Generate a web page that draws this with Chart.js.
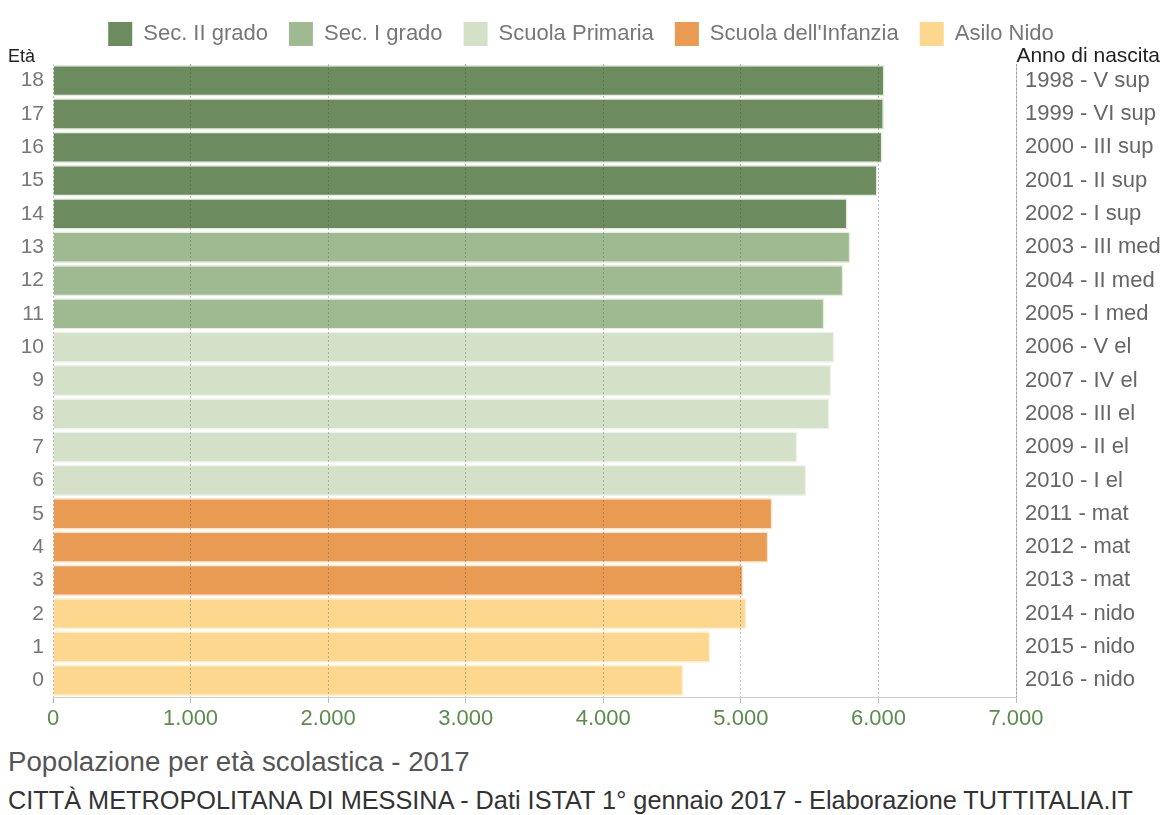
<!DOCTYPE html>
<html>
<head>
<meta charset="utf-8">
<title>Popolazione per età scolastica - 2017</title>
<script src="https://cdn.jsdelivr.net/npm/chart.js@4/dist/chart.umd.min.js"></script>
<style>
  body { margin: 0; background: #fff; font-family: "Liberation Sans", Arial, sans-serif; }
  #pagina { position: relative; width: 1162px; height: 815px; overflow: hidden; }
  #contenitore { position: absolute; left: 0; top: 0; width: 1162px; height: 740px; }
  #titolo { position: absolute; left: 8px; top: 748px; font-size: 27.7px; line-height: 28px; color: #555; white-space: nowrap; }
  #fonte { position: absolute; left: 8px; top: 788px; font-size: 25.3px; line-height: 25px; color: #333; white-space: nowrap; }
</style>
</head>
<body>
<div id="pagina">
  <div id="contenitore"><canvas id="scuolaChart"></canvas></div>
  <div id="titolo">Popolazione per età scolastica - 2017</div>
  <div id="fonte">CITTÀ METROPOLITANA DI MESSINA - Dati ISTAT 1° gennaio 2017 - Elaborazione TUTTITALIA.IT</div>
</div>
<script>
// dati (dall'alto in basso: età 18 ... 0)
const eta = ["18", "17", "16", "15", "14", "13", "12", "11", "10", "9", "8", "7", "6", "5", "4", "3", "2", "1", "0"];
const anniNascita = [
  "1998 - V sup", "1999 - VI sup", "2000 - III sup", "2001 - II sup", "2002 - I sup",
  "2003 - III med", "2004 - II med", "2005 - I med",
  "2006 - V el", "2007 - IV el", "2008 - III el", "2009 - II el", "2010 - I el",
  "2011 - mat", "2012 - mat", "2013 - mat",
  "2014 - nido", "2015 - nido", "2016 - nido"
];
const popolazione = [6044, 6040, 6029, 5993, 5775, 5796, 5745, 5607, 5680, 5658, 5644, 5411, 5476, 5229, 5200, 5018, 5040, 4778, 4582];
const gruppi = ["Sec. II grado", "Sec. I grado", "Scuola Primaria", "Scuola dell'Infanzia", "Asilo Nido"];
const gruppoEta = [0, 0, 0, 0, 0, 1, 1, 1, 2, 2, 2, 2, 2, 3, 3, 3, 4, 4, 4];
const tickX = [0, 1000, 2000, 3000, 4000, 5000, 6000, 7000];

const coloriGruppi = ["#6c8b5e", "#9fba91", "#d4e0c8", "#e99a53", "#fdd78e"];
const bordiGruppi = ["#e2ebdc", "#e6eee0", "#eef3e9", "#fbe3cc", "#fff0d4"];

const font = "'Liberation Sans', Arial, sans-serif";

function migliaia(v) {
  return String(v).replace(/\B(?=(\d{3})+(?!\d))/g, ".");
}

// spazio tra legenda e grafico
const spazioLegenda = {
  id: "spazioLegenda",
  beforeInit(chart) {
    const fitOrig = chart.legend.fit;
    chart.legend.fit = function () {
      fitOrig.bind(chart.legend)();
      this.height += 8;
    };
  }
};

// titoli degli assi sopra le etichette
const titoliAssi = {
  id: "titoliAssi",
  afterDraw(chart) {
    const { ctx, chartArea } = chart;
    ctx.save();
    ctx.fillStyle = "#222";
    ctx.textBaseline = "alphabetic";
    ctx.font = "18px " + font;
    ctx.textAlign = "left";
    ctx.fillText("Età", 8, chartArea.top - 2);
    ctx.font = "21px " + font;
    ctx.textAlign = "right";
    ctx.fillText("Anno di nascita", chart.width - 2, chartArea.top - 2);
    ctx.restore();
  }
};

new Chart(document.getElementById("scuolaChart"), {
  type: "bar",
  data: {
    labels: eta,
    datasets: [{
      label: "Popolazione",
      data: popolazione,
      backgroundColor: gruppoEta.map(g => coloriGruppi[g]),
      borderColor: gruppoEta.map(g => bordiGruppi[g]),
      borderWidth: 1.5,
      barPercentage: 0.94,
      categoryPercentage: 1
    }]
  },
  options: {
    indexAxis: "y",
    responsive: true,
    maintainAspectRatio: false,
    animation: false,
    layout: { padding: { top: 1, left: 0, right: 0, bottom: 0 } },
    plugins: {
      tooltip: { enabled: false },
      legend: {
        position: "top",
        onClick: null,
        labels: {
          boxWidth: 24,
          boxHeight: 24,
          padding: 21,
          color: "#777",
          font: { family: font, size: 22 },
          generateLabels: () => gruppi.map((g, i) => ({
            text: g,
            fillStyle: coloriGruppi[i],
            strokeStyle: coloriGruppi[i],
            lineWidth: 0,
            fontColor: "#777",
            hidden: false,
            index: i
          }))
        }
      }
    },
    scales: {
      x: {
        type: "linear",
        position: "bottom",
        min: 0,
        max: 7000,
        afterBuildTicks: scale => { scale.ticks = tickX.map(v => ({ value: v })); },
        afterFit: scale => { scale.height = 43; },
        ticks: {
          color: "#5a8c4c",
          padding: 3,
          font: { family: font, size: 22 },
          callback: v => migliaia(v)
        },
        grid: {
          z: 1,
          color: "rgba(60,60,60,0.3)",
          lineWidth: 1,
          tickLength: 6,
          tickColor: "#bbb",
          tickBorderDash: []
        },
        border: { display: true, z: 1, color: "#ccc", dash: [2, 2] }
      },
      y: {
        type: "category",
        position: "left",
        afterFit: scale => { scale.width = 53; },
        ticks: { color: "#777", padding: 9, font: { family: font, size: 21 } },
        grid: { display: false, drawTicks: false },
        border: { display: false }
      },
      y2: {
        type: "category",
        position: "right",
        labels: anniNascita,
        afterFit: scale => { scale.width = 146; },
        ticks: { color: "#666", padding: 9, font: { family: font, size: 22 } },
        grid: { display: false, drawTicks: false },
        border: { display: true, color: "#ccc" }
      }
    }
  },
  plugins: [spazioLegenda, titoliAssi]
});
</script>
</body>
</html>
